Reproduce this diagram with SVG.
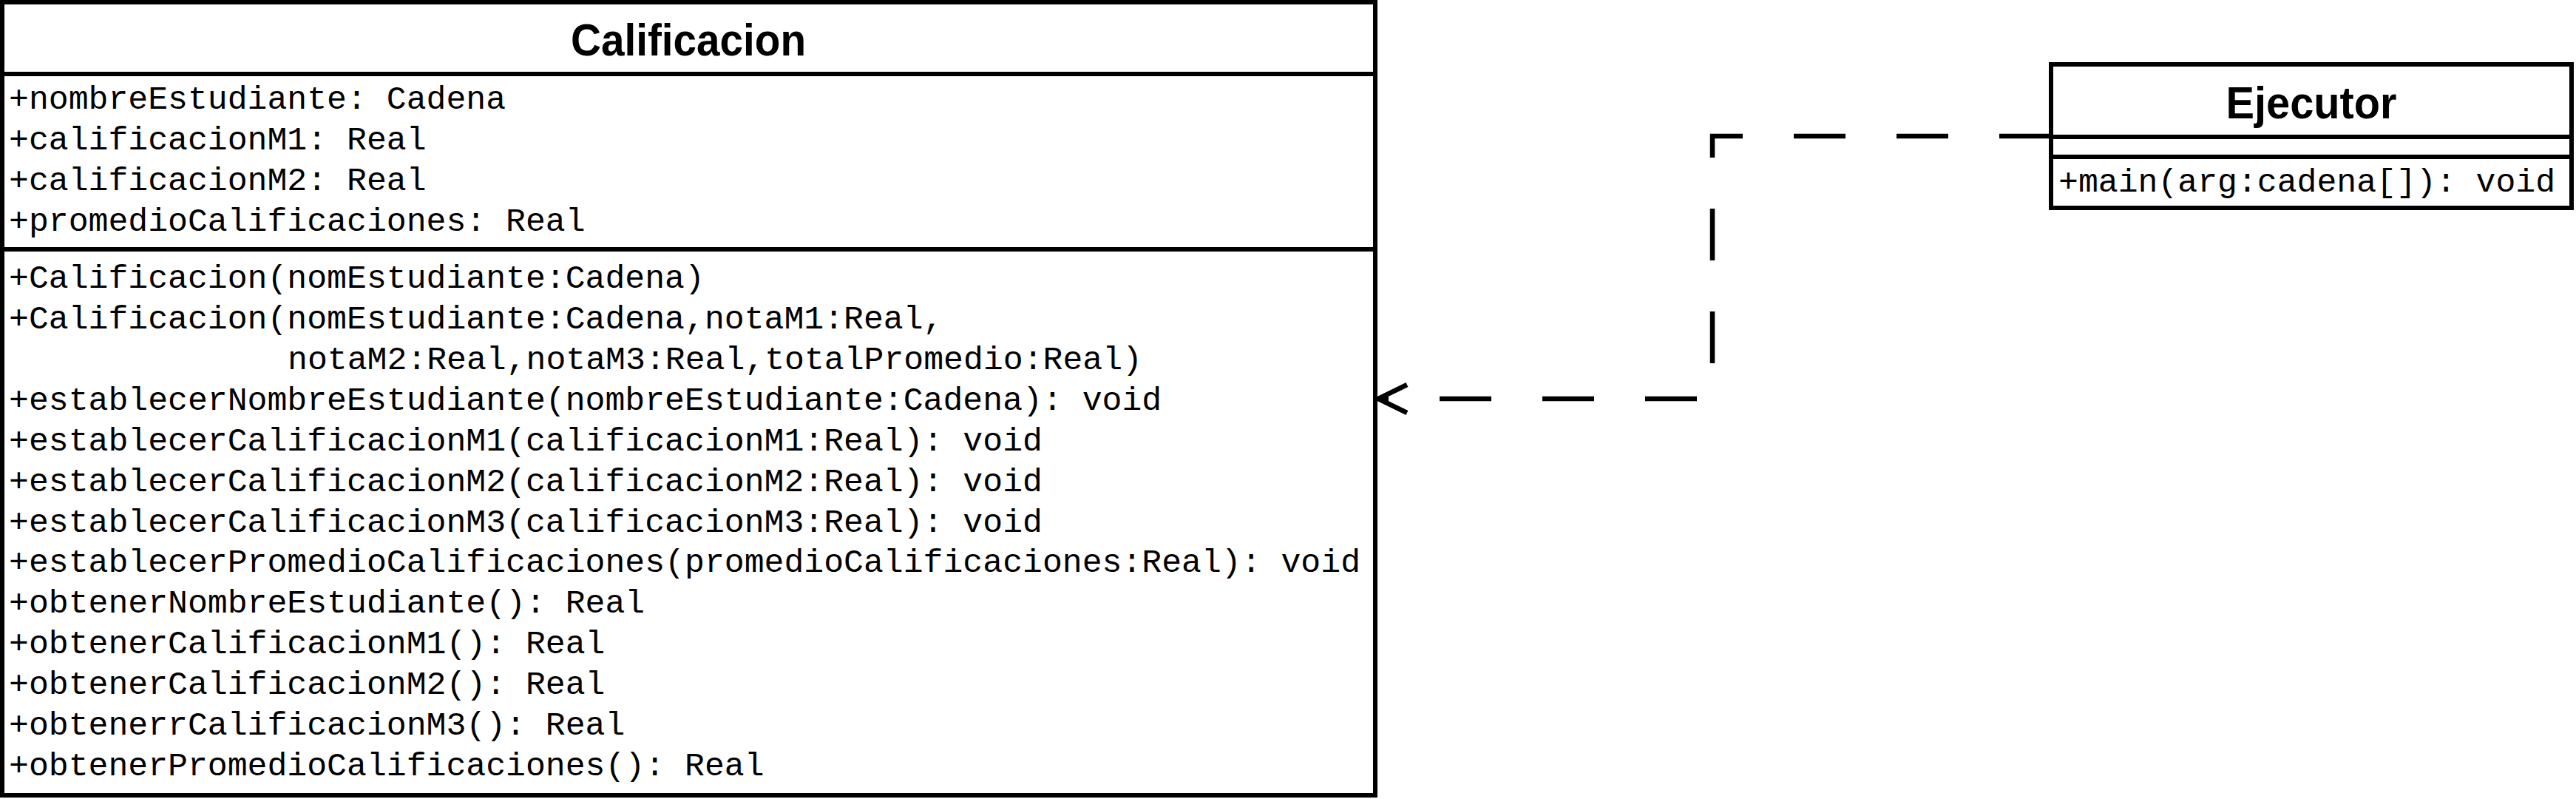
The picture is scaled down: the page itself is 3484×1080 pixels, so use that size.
<svg xmlns="http://www.w3.org/2000/svg" width="3484" height="1080" viewBox="0 0 3484 1080">
<style>
.box{fill:#fff;stroke:#000;stroke-width:6}
.sep{stroke:#000;stroke-width:6}
.title{font-family:"Liberation Sans",Arial,sans-serif;font-weight:bold;font-size:61px;fill:#000;text-anchor:middle}
.mono{font-family:"Liberation Mono","Courier New",monospace;font-size:44.8px;fill:#000}
.dash{fill:none;stroke:#000;stroke-width:6.5;stroke-dasharray:70 69}
.head{fill:none;stroke:#000;stroke-width:6.5}
</style>
<rect width="3484" height="1080" fill="#fff"/>
<g id="Calificacion">
<rect class="box" x="3" y="3" width="1857" height="1072"/>
<line class="sep" x1="3" y1="100" x2="1860" y2="100"/>
<line class="sep" x1="3" y1="337" x2="1860" y2="337"/>
<text class="title" x="931" y="75" textLength="318" lengthAdjust="spacingAndGlyphs">Calificacion</text>
<text class="mono" x="12" y="147">+nombreEstudiante: Cadena</text>
<text class="mono" x="12" y="202">+calificacionM1: Real</text>
<text class="mono" x="12" y="257">+calificacionM2: Real</text>
<text class="mono" x="12" y="312">+promedioCalificaciones: Real</text>
<text class="mono" x="12" y="389">+Calificacion(nomEstudiante:Cadena)</text>
<text class="mono" x="12" y="444">+Calificacion(nomEstudiante:Cadena,notaM1:Real,</text>
<text class="mono" x="389" y="499">notaM2:Real,notaM3:Real,totalPromedio:Real)</text>
<text class="mono" x="12" y="554">+establecerNombreEstudiante(nombreEstudiante:Cadena): void</text>
<text class="mono" x="12" y="609">+establecerCalificacionM1(calificacionM1:Real): void</text>
<text class="mono" x="12" y="664">+establecerCalificacionM2(calificacionM2:Real): void</text>
<text class="mono" x="12" y="719">+establecerCalificacionM3(calificacionM3:Real): void</text>
<text class="mono" x="12" y="773">+establecerPromedioCalificaciones(promedioCalificaciones:Real): void</text>
<text class="mono" x="12" y="828">+obtenerNombreEstudiante(): Real</text>
<text class="mono" x="12" y="883">+obtenerCalificacionM1(): Real</text>
<text class="mono" x="12" y="938">+obtenerCalificacionM2(): Real</text>
<text class="mono" x="12" y="993">+obtenerrCalificacionM3(): Real</text>
<text class="mono" x="12" y="1048">+obtenerPromedioCalificaciones(): Real</text>
</g>
<g id="Ejecutor">
<rect class="box" x="2774" y="87" width="704" height="194"/>
<line class="sep" x1="2774" y1="185" x2="3478" y2="185"/>
<line class="sep" x1="2774" y1="212" x2="3478" y2="212"/>
<text class="title" x="3126" y="160" textLength="231" lengthAdjust="spacingAndGlyphs">Ejecutor</text>
<text class="mono" x="2784" y="259">+main(arg:cadena[]): void</text>
</g>
<g id="connectors">
<path class="dash" d="M2774,184 H2316 V539 H1866"/>
<polyline class="head" points="1903,520 1864,539 1903,558"/>
</g>
</svg>
